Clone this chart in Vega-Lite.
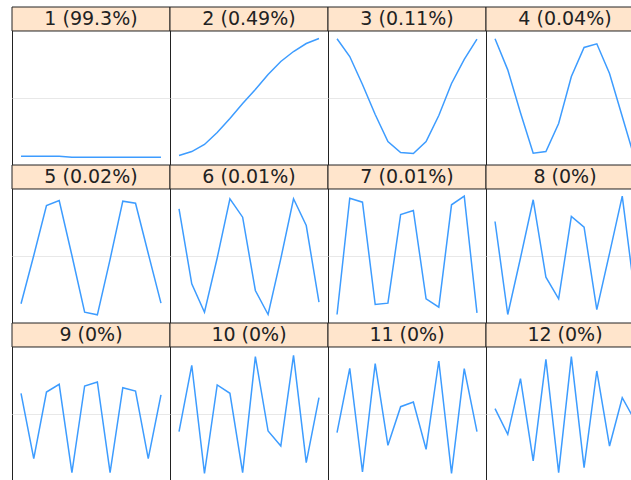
{
  "$schema": "https://vega.github.io/schema/vega-lite/v6.json",
  "padding": {"left": 11, "top": 5, "right": 0, "bottom": 0},
  "background": "white",
  "data": {"values": [
    {"comp":1,"label":"1 (99.3%)","x":1,"y":-0.869},{"comp":1,"label":"1 (99.3%)","x":2,"y":-0.869},{"comp":1,"label":"1 (99.3%)","x":3,"y":-0.869},{"comp":1,"label":"1 (99.3%)","x":4,"y":-0.869},{"comp":1,"label":"1 (99.3%)","x":5,"y":-0.884},{"comp":1,"label":"1 (99.3%)","x":6,"y":-0.884},{"comp":1,"label":"1 (99.3%)","x":7,"y":-0.884},{"comp":1,"label":"1 (99.3%)","x":8,"y":-0.884},{"comp":1,"label":"1 (99.3%)","x":9,"y":-0.884},{"comp":1,"label":"1 (99.3%)","x":10,"y":-0.884},{"comp":1,"label":"1 (99.3%)","x":11,"y":-0.884},{"comp":1,"label":"1 (99.3%)","x":12,"y":-0.884},
    {"comp":2,"label":"2 (0.49%)","x":1,"y":-0.858},{"comp":2,"label":"2 (0.49%)","x":2,"y":-0.799},{"comp":2,"label":"2 (0.49%)","x":3,"y":-0.694},{"comp":2,"label":"2 (0.49%)","x":4,"y":-0.515},{"comp":2,"label":"2 (0.49%)","x":5,"y":-0.306},{"comp":2,"label":"2 (0.49%)","x":6,"y":-0.082},{"comp":2,"label":"2 (0.49%)","x":7,"y":0.127},{"comp":2,"label":"2 (0.49%)","x":8,"y":0.351},{"comp":2,"label":"2 (0.49%)","x":9,"y":0.545},{"comp":2,"label":"2 (0.49%)","x":10,"y":0.694},{"comp":2,"label":"2 (0.49%)","x":11,"y":0.813},{"comp":2,"label":"2 (0.49%)","x":12,"y":0.888},
    {"comp":3,"label":"3 (0.11%)","x":1,"y":0.884},{"comp":3,"label":"3 (0.11%)","x":2,"y":0.619},{"comp":3,"label":"3 (0.11%)","x":3,"y":0.201},{"comp":3,"label":"3 (0.11%)","x":4,"y":-0.246},{"comp":3,"label":"3 (0.11%)","x":5,"y":-0.649},{"comp":3,"label":"3 (0.11%)","x":6,"y":-0.813},{"comp":3,"label":"3 (0.11%)","x":7,"y":-0.828},{"comp":3,"label":"3 (0.11%)","x":8,"y":-0.649},{"comp":3,"label":"3 (0.11%)","x":9,"y":-0.261},{"comp":3,"label":"3 (0.11%)","x":10,"y":0.216},{"comp":3,"label":"3 (0.11%)","x":11,"y":0.575},{"comp":3,"label":"3 (0.11%)","x":12,"y":0.878},
    {"comp":4,"label":"4 (0.04%)","x":1,"y":0.884},{"comp":4,"label":"4 (0.04%)","x":2,"y":0.42},{"comp":4,"label":"4 (0.04%)","x":3,"y":-0.22},{"comp":4,"label":"4 (0.04%)","x":4,"y":-0.824},{"comp":4,"label":"4 (0.04%)","x":5,"y":-0.799},{"comp":4,"label":"4 (0.04%)","x":6,"y":-0.38},{"comp":4,"label":"4 (0.04%)","x":7,"y":0.32},{"comp":4,"label":"4 (0.04%)","x":8,"y":0.754},{"comp":4,"label":"4 (0.04%)","x":9,"y":0.809},{"comp":4,"label":"4 (0.04%)","x":10,"y":0.366},{"comp":4,"label":"4 (0.04%)","x":11,"y":-0.276},{"comp":4,"label":"4 (0.04%)","x":12,"y":-0.92},
    {"comp":5,"label":"5 (0.02%)","x":1,"y":-0.713},{"comp":5,"label":"5 (0.02%)","x":2,"y":0.007},{"comp":5,"label":"5 (0.02%)","x":3,"y":0.754},{"comp":5,"label":"5 (0.02%)","x":4,"y":0.828},{"comp":5,"label":"5 (0.02%)","x":5,"y":0.007},{"comp":5,"label":"5 (0.02%)","x":6,"y":-0.839},{"comp":5,"label":"5 (0.02%)","x":7,"y":-0.878},{"comp":5,"label":"5 (0.02%)","x":8,"y":-0.05},{"comp":5,"label":"5 (0.02%)","x":9,"y":0.818},{"comp":5,"label":"5 (0.02%)","x":10,"y":0.788},{"comp":5,"label":"5 (0.02%)","x":11,"y":0.037},{"comp":5,"label":"5 (0.02%)","x":12,"y":-0.704},
    {"comp":6,"label":"6 (0.01%)","x":1,"y":0.704},{"comp":6,"label":"6 (0.01%)","x":2,"y":-0.415},{"comp":6,"label":"6 (0.01%)","x":3,"y":-0.839},{"comp":6,"label":"6 (0.01%)","x":4,"y":-0.03},{"comp":6,"label":"6 (0.01%)","x":5,"y":0.854},{"comp":6,"label":"6 (0.01%)","x":6,"y":0.579},{"comp":6,"label":"6 (0.01%)","x":7,"y":-0.515},{"comp":6,"label":"6 (0.01%)","x":8,"y":-0.873},{"comp":6,"label":"6 (0.01%)","x":9,"y":-0.04},{"comp":6,"label":"6 (0.01%)","x":10,"y":0.854},{"comp":6,"label":"6 (0.01%)","x":11,"y":0.455},{"comp":6,"label":"6 (0.01%)","x":12,"y":-0.69},
    {"comp":7,"label":"7 (0.01%)","x":1,"y":-0.873},{"comp":7,"label":"7 (0.01%)","x":2,"y":0.863},{"comp":7,"label":"7 (0.01%)","x":3,"y":0.803},{"comp":7,"label":"7 (0.01%)","x":4,"y":-0.724},{"comp":7,"label":"7 (0.01%)","x":5,"y":-0.704},{"comp":7,"label":"7 (0.01%)","x":6,"y":0.619},{"comp":7,"label":"7 (0.01%)","x":7,"y":0.679},{"comp":7,"label":"7 (0.01%)","x":8,"y":-0.639},{"comp":7,"label":"7 (0.01%)","x":9,"y":-0.764},{"comp":7,"label":"7 (0.01%)","x":10,"y":0.764},{"comp":7,"label":"7 (0.01%)","x":11,"y":0.893},{"comp":7,"label":"7 (0.01%)","x":12,"y":-0.848},
    {"comp":8,"label":"8 (0%)","x":1,"y":0.515},{"comp":8,"label":"8 (0%)","x":2,"y":-0.873},{"comp":8,"label":"8 (0%)","x":3,"y":-0.03},{"comp":8,"label":"8 (0%)","x":4,"y":0.839},{"comp":8,"label":"8 (0%)","x":5,"y":-0.316},{"comp":8,"label":"8 (0%)","x":6,"y":-0.639},{"comp":8,"label":"8 (0%)","x":7,"y":0.59},{"comp":8,"label":"8 (0%)","x":8,"y":0.43},{"comp":8,"label":"8 (0%)","x":9,"y":-0.8},{"comp":8,"label":"8 (0%)","x":10,"y":0.04},{"comp":8,"label":"8 (0%)","x":11,"y":0.893},{"comp":8,"label":"8 (0%)","x":12,"y":-0.6},
    {"comp":9,"label":"9 (0%)","x":1,"y":0.309},{"comp":9,"label":"9 (0%)","x":2,"y":-0.667},{"comp":9,"label":"9 (0%)","x":3,"y":0.328},{"comp":9,"label":"9 (0%)","x":4,"y":0.443},{"comp":9,"label":"9 (0%)","x":5,"y":-0.876},{"comp":9,"label":"9 (0%)","x":6,"y":0.418},{"comp":9,"label":"9 (0%)","x":7,"y":0.478},{"comp":9,"label":"9 (0%)","x":8,"y":-0.876},{"comp":9,"label":"9 (0%)","x":9,"y":0.393},{"comp":9,"label":"9 (0%)","x":10,"y":0.343},{"comp":9,"label":"9 (0%)","x":11,"y":-0.667},{"comp":9,"label":"9 (0%)","x":12,"y":0.284},
    {"comp":10,"label":"10 (0%)","x":1,"y":-0.264},{"comp":10,"label":"10 (0%)","x":2,"y":0.727},{"comp":10,"label":"10 (0%)","x":3,"y":-0.885},{"comp":10,"label":"10 (0%)","x":4,"y":0.433},{"comp":10,"label":"10 (0%)","x":5,"y":0.309},{"comp":10,"label":"10 (0%)","x":6,"y":-0.876},{"comp":10,"label":"10 (0%)","x":7,"y":0.855},{"comp":10,"label":"10 (0%)","x":8,"y":-0.254},{"comp":10,"label":"10 (0%)","x":9,"y":-0.478},{"comp":10,"label":"10 (0%)","x":10,"y":0.876},{"comp":10,"label":"10 (0%)","x":11,"y":-0.727},{"comp":10,"label":"10 (0%)","x":12,"y":0.243},
    {"comp":11,"label":"11 (0%)","x":1,"y":-0.279},{"comp":11,"label":"11 (0%)","x":2,"y":0.682},{"comp":11,"label":"11 (0%)","x":3,"y":-0.866},{"comp":11,"label":"11 (0%)","x":4,"y":0.751},{"comp":11,"label":"11 (0%)","x":5,"y":-0.467},{"comp":11,"label":"11 (0%)","x":6,"y":0.109},{"comp":11,"label":"11 (0%)","x":7,"y":0.179},{"comp":11,"label":"11 (0%)","x":8,"y":-0.527},{"comp":11,"label":"11 (0%)","x":9,"y":0.791},{"comp":11,"label":"11 (0%)","x":10,"y":-0.885},{"comp":11,"label":"11 (0%)","x":11,"y":0.676},{"comp":11,"label":"11 (0%)","x":12,"y":-0.264},
    {"comp":12,"label":"12 (0%)","x":1,"y":0.079},{"comp":12,"label":"12 (0%)","x":2,"y":-0.303},{"comp":12,"label":"12 (0%)","x":3,"y":0.527},{"comp":12,"label":"12 (0%)","x":4,"y":-0.701},{"comp":12,"label":"12 (0%)","x":5,"y":0.816},{"comp":12,"label":"12 (0%)","x":6,"y":-0.876},{"comp":12,"label":"12 (0%)","x":7,"y":0.855},{"comp":12,"label":"12 (0%)","x":8,"y":-0.801},{"comp":12,"label":"12 (0%)","x":9,"y":0.642},{"comp":12,"label":"12 (0%)","x":10,"y":-0.478},{"comp":12,"label":"12 (0%)","x":11,"y":0.243},{"comp":12,"label":"12 (0%)","x":12,"y":-0.099}
  ]},
  "facet": {"field": "comp", "type": "ordinal", "header": {"labels": false, "labelExpr": "''", "labelFontSize": 0.01, "labelPadding": 0, "labelColor": "transparent", "title": null}},
  "columns": 4,
  "spacing": {"row": 0, "column": 0},
  "bounds": "flush",
  "spec": {
    "width": 158,
    "height": 158,
    "layer": [
      {
        "mark": {"type": "line", "color": "#3d9cff", "strokeWidth": 1.5},
        "encoding": {
          "x": {"field": "x", "type": "quantitative", "scale": {"domain": [0.29, 12.71], "nice": false, "zero": false}, "axis": null},
          "y": {"field": "y", "type": "quantitative", "scale": {"domain": [-1, 1.358], "nice": false, "zero": false},
                "axis": {"values": [0], "grid": true, "gridColor": "#e8e8e8", "gridWidth": 1, "labels": false, "ticks": false, "domain": false, "title": null, "labelPadding": 0, "minExtent": 0, "maxExtent": 0}}
        }
      },
      {
        "transform": [{"filter": "datum.x == 1"}],
        "mark": {"type": "rect", "fill": "#ffe5cc", "stroke": "#222222", "strokeWidth": 1},
        "encoding": {
          "y": {"datum": 1},
          "y2": {"datum": 1.358}
        }
      },
      {
        "transform": [{"filter": "datum.x == 1"}],
        "mark": {"type": "text", "font": "DejaVu Sans", "fontSize": 19, "color": "#222222", "baseline": "middle", "align": "center"},
        "encoding": {
          "y": {"datum": 1.18},
          "text": {"field": "label", "type": "nominal"}
        }
      }
    ]
  },
  "config": {
    "view": {"stroke": "#222222", "strokeWidth": 1},
    "header": {"labels": false, "labelExpr": "''", "labelFontSize": 0.01, "labelPadding": 0, "title": null, "titlePadding": 0},
    "facet": {"spacing": 0},
    "concat": {"spacing": 0},
    "axis": {"gridColor": "#e8e8e8"}
  }
}
